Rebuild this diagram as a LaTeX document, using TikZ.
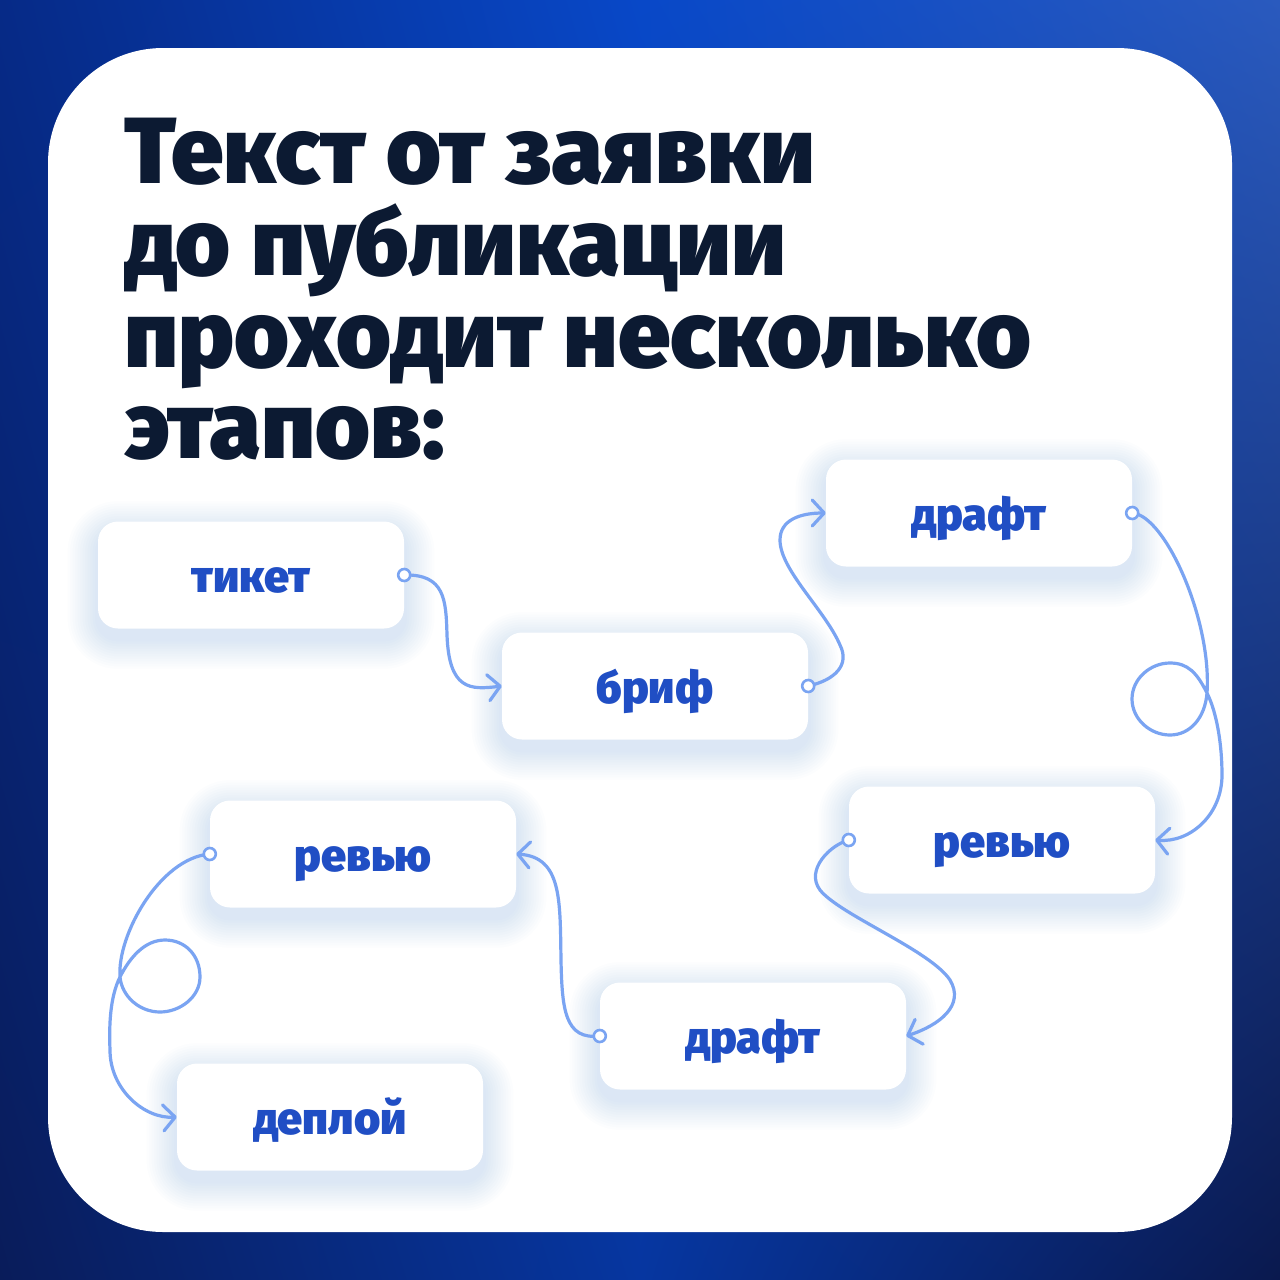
\documentclass[tikz,border=0pt]{standalone}
\usepackage{fontspec}
\setmainfont{Fira Sans}
\newfontfamily\heavyfont{Fira Sans Black}
\usetikzlibrary{arrows.meta,shadings}
\definecolor{navy}{RGB}{12,26,50}
\definecolor{stageblue}{RGB}{32,78,196}
\definecolor{linkblue}{RGB}{122,164,242}
\definecolor{glowblue}{RGB}{120,158,245}
\definecolor{bgtopleft}{RGB}{6,42,135}
\definecolor{bgtop}{RGB}{8,72,200}
\definecolor{bgtopright}{RGB}{42,90,190}
\definecolor{bgbotleft}{RGB}{9,28,90}
\definecolor{bgbot}{RGB}{6,54,160}
\definecolor{bgbotright}{RGB}{10,25,78}
\pgfdeclarelayer{back}
\pgfdeclarelayer{glow}
\pgfsetlayers{back,glow,main}
\tikzset{
  stage/.style={fill=white, rounded corners=20pt, minimum width=306pt, minimum height=107pt,
    text height=34pt, text depth=0pt, text=stageblue, font=\heavyfont\fontsize{45}{45}\selectfont},
  headline/.style={anchor=base west, inner sep=0pt, text=navy, font=\heavyfont\fontsize{94}{94}\selectfont},
  link/.style={linkblue, line width=3.2pt, line cap=round, -{Straight Barb[length=12pt,width=26pt,round]}},
  knob/.style={circle, draw=linkblue, line width=2.6pt, fill=white, inner sep=0pt, minimum size=12pt}
}
\begin{document}
\begin{tikzpicture}[x=1pt,y=-1pt]
\useasboundingbox (0,0) rectangle (1280,1280);
\begin{pgfonlayer}{back}
\shade[upper left=bgtopleft, upper right=bgtop, lower left=bgbotleft, lower right=bgbot] (0,0) rectangle (640.5,1280);
\shade[upper left=bgtop, upper right=bgtopright, lower left=bgbot, lower right=bgbotright] (640,0) rectangle (1280,1280);
\fill[white, rounded corners=115pt] (48,48) rectangle (1232,1232);
\end{pgfonlayer}
\node[headline] (line1) at (124,183) {Текст от заявки};
\node[headline] (line2) at (124,275) {до публикации};
\node[headline] (line3) at (124,367) {проходит несколько};
\node[headline] (line4) at (124,458) {этапов:};
\node[stage] (tiket) at (251,575) {тикет};
\node[stage] (brif) at (655,686) {бриф};
\node[stage] (draft) at (979,513) {драфт};
\node[stage] (review) at (1002,840) {ревью};
\node[stage] (redraft) at (753,1036) {драфт};
\node[stage] (rereview) at (363,854) {ревью};
\node[stage] (deploy) at (330,1117) {деплой};
\begin{pgfonlayer}{glow}
\foreach \n in {tiket,brif,draft,review,redraft,rereview,deploy}
  \foreach \i in {1,...,12}
    \fill[glowblue, fill opacity=0.018, rounded corners=20pt+\i*2.5pt]
      ([shift={(-\i*2.5,-\i*2.5+10)}]\n.north west) rectangle ([shift={(\i*2.5,\i*2.5+10)}]\n.south east);
\end{pgfonlayer}
\draw[link] (tiket.east) .. controls (445,574) and (446,600) .. (447,635) .. controls (449,690) and (470,690) .. (brif.west);
\draw[link] (brif.east) .. controls (835,680) and (850,665) .. (840,645) .. controls (825,610) and (780,570) .. (780,540) .. controls (780,520) and (800,513) .. (draft.west);
\draw[link] (draft.east) .. controls (1165,515) and (1212,620) .. (1207,693) .. controls (1205,718) and (1190,735) .. (1170,735) .. controls (1150,735) and (1132,719) .. (1132,699) .. controls (1132,679) and (1150,663) .. (1170,663) .. controls (1188,663) and (1197,673) .. (1207,693) .. controls (1217,713) and (1222,745) .. (1222,775) .. controls (1222,815) and (1190,843) .. (review.east);
\draw[link] (review.west) .. controls (830,845) and (805,870) .. (820,890) .. controls (840,915) and (930,950) .. (950,980) .. controls (965,1005) and (940,1025) .. (redraft.east);
\draw[link] (redraft.west) .. controls (565,1040) and (562,1010) .. (561,960) .. controls (560,900) and (562,857) .. (rereview.east);
\draw[link] (rereview.west) .. controls (160,858) and (117,935) .. (120,977) .. controls (122,997) and (140,1012) .. (160,1012) .. controls (180,1012) and (200,997) .. (200,977) .. controls (200,955) and (185,940) .. (165,940) .. controls (145,940) and (130,957) .. (120,977) .. controls (110,997) and (109,1025) .. (110,1050) .. controls (110,1090) and (145,1119) .. (deploy.west);
\foreach \k in {tiket.east,brif.east,draft.east,review.west,redraft.west,rereview.west}
  \node[knob] at (\k) {};
\end{tikzpicture}
\end{document}
